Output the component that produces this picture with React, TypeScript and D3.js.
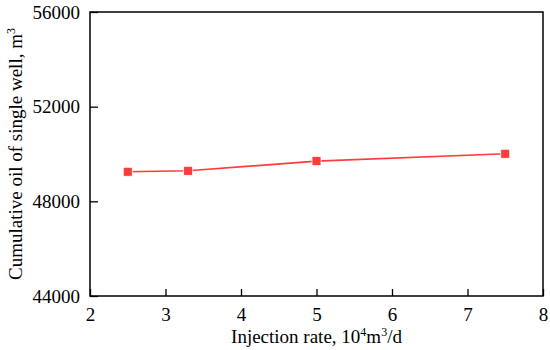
import React, { useEffect, useRef } from "react";
import * as d3 from "d3";

const injectionRate = [2.5, 3.3, 5, 7.5];
const cumulativeOil = [49250, 49290, 49700, 50010];
const xTicks = [2, 3, 4, 5, 6, 7, 8];
const yTicks = [44000, 48000, 52000, 56000];

const W = 550;
const H = 350;
const margin = { top: 12, right: 7, bottom: 54, left: 90 };
const font = "Liberation Serif";
const red = "#ff3b3b";

const App = () => {
  const ref = useRef<SVGGElement>(null);

  useEffect(() => {
    const iw = W - margin.left - margin.right;
    const ih = H - margin.top - margin.bottom;
    const x = d3.scaleLinear().domain([2, 8]).range([0, iw]);
    const y = d3.scaleLinear().domain([44000, 56000]).range([ih, 0]);

    const g = d3.select(ref.current);
    g.selectAll("*").remove();

    // bottom axis, ticks inward
    const xAxis = g
      .append("g")
      .attr("transform", `translate(0,${ih})`)
      .call(
        d3.axisBottom(x).tickValues(xTicks).tickSizeInner(-7).tickSizeOuter(0).tickPadding(12).tickFormat(d3.format("d"))
      );
    const yAxis = g
      .append("g")
      .call(
        d3.axisLeft(y).tickValues(yTicks).tickSizeInner(-8).tickSizeOuter(0).tickPadding(10).tickFormat(d3.format("d"))
      );

    [xAxis, yAxis].forEach(a => {
      a.attr("font-family", font).attr("font-size", 19);
      a.select(".domain").remove();
      a.selectAll("line").attr("stroke", "#000").attr("stroke-width", 1.3);
      a.selectAll("text").attr("fill", "#000");
    });

    // frame
    g.append("rect")
      .attr("width", iw)
      .attr("height", ih)
      .attr("fill", "none")
      .attr("stroke", "#000")
      .attr("stroke-width", 1.5);

    const pts = injectionRate.map((v, i) => [v, cumulativeOil[i]] as [number, number]);
    const line = d3
      .line<[number, number]>()
      .x(d => x(d[0]))
      .y(d => y(d[1]));

    g.append("path")
      .datum(pts)
      .attr("d", line)
      .attr("fill", "none")
      .attr("stroke", red)
      .attr("stroke-width", 1.6);

    g.selectAll("rect.pt")
      .data(pts)
      .enter()
      .append("rect")
      .attr("class", "pt")
      .attr("x", d => x(d[0]) - 4.5)
      .attr("y", d => y(d[1]) - 4.5)
      .attr("width", 9)
      .attr("height", 9)
      .attr("fill", red)
      .attr("stroke", "#fff")
      .attr("stroke-width", 0.8);

    // x label
    const xl = g
      .append("text")
      .attr("x", iw / 2)
      .attr("y", ih + 47)
      .attr("text-anchor", "middle")
      .attr("font-family", font)
      .attr("font-size", 19);
    xl.append("tspan").text("Injection rate, 10");
    xl.append("tspan").attr("dy", -7).attr("font-size", 12).text("4");
    xl.append("tspan").attr("dy", 7).text("m");
    xl.append("tspan").attr("dy", -7).attr("font-size", 12).text("3");
    xl.append("tspan").attr("dy", 7).text("/d");

    // y label
    const yl = g
      .append("text")
      .attr("transform", `translate(${-68},${ih / 2}) rotate(-90)`)
      .attr("text-anchor", "middle")
      .attr("font-family", font)
      .attr("font-size", 19);
    yl.append("tspan").text("Cumulative oil of single well, m");
    yl.append("tspan").attr("dy", -7).attr("font-size", 12).text("3");
  }, []);

  return (
    <svg width={W} height={H} style={{ position: "absolute", left: 0, top: 0, background: "#fff" }}>
      <g ref={ref} transform={`translate(${margin.left},${margin.top})`} />
    </svg>
  );
};

export default App;
